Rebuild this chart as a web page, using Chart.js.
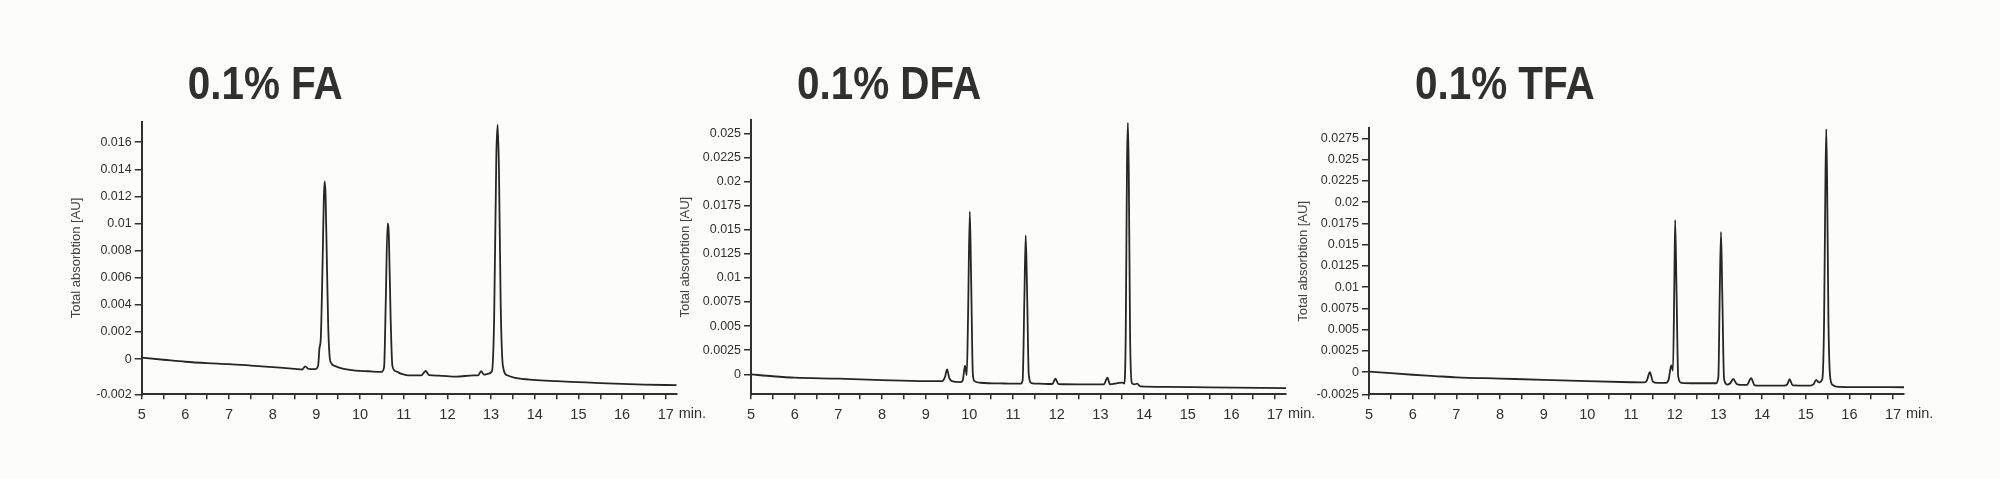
<!DOCTYPE html>
<html>
<head>
<meta charset="utf-8">
<title>Chromatograms</title>
<script src="https://cdn.jsdelivr.net/npm/chart.js@4.4.1/dist/chart.umd.min.js"></script>
<style>
  html, body { margin: 0; padding: 0; background: #fcfcfa; }
  body { width: 2000px; height: 479px; position: relative; overflow: hidden; }
  canvas { position: absolute; top: 0; }
</style>
</head>
<body>
<canvas id="faChart" width="717" height="479" style="left:0px"></canvas>
<canvas id="dfaChart" width="666" height="479" style="left:660px"></canvas>
<canvas id="tfaChart" width="664" height="479" style="left:1280px"></canvas>

<script>
// retention time axis (min.)
const xTicks = [5, 6, 7, 8, 9, 10, 11, 12, 13, 14, 15, 16, 17];

// 0.1% FA
const faTime = [5.0, 5.5, 6.0, 6.5, 7.0, 7.5, 8.0, 8.5, 8.68, 8.74, 8.82, 8.97, 9.04, 9.07, 9.1, 9.14, 9.17, 9.19, 9.21, 9.24, 9.27, 9.3, 9.34, 9.42, 9.6, 9.9, 10.2, 10.49, 10.55, 10.59, 10.63, 10.66, 10.7, 10.74, 10.82, 10.95, 11.1, 11.4, 11.5, 11.58, 11.8, 12.2, 12.6, 12.7, 12.77, 12.84, 12.92, 13.02, 13.07, 13.12, 13.15, 13.18, 13.22, 13.27, 13.37, 13.56, 13.97, 14.5, 15.0, 15.5, 16.0, 16.5, 17.25];
const faSignal = [0.0001, -0.00005, -0.0002, -0.0003, -0.00037, -0.00048, -0.0006, -0.00072, -0.00077, -0.00054, -0.00073, -0.00075, -0.0005, 0.0008, 0.0015, 0.0068, 0.0118, 0.0131, 0.0121, 0.0072, 0.0025, 0.0003, -0.0003, -0.0005, -0.0007, -0.00085, -0.0009, -0.00095, -0.0006, 0.0045, 0.01, 0.009, 0.003, -0.0005, -0.0009, -0.0011, -0.0012, -0.0012, -0.00088, -0.00118, -0.00122, -0.0013, -0.0012, -0.0012, -0.0009, -0.00115, -0.0011, -0.0009, 0.003, 0.015, 0.0173, 0.014, 0.004, -0.0005, -0.0012, -0.00139, -0.00154, -0.00163, -0.0017, -0.00177, -0.00183, -0.00188, -0.00193];
const faYTicks = [-0.002, 0, 0.002, 0.004, 0.006, 0.008, 0.01, 0.012, 0.014, 0.016];

// 0.1% DFA
const dfaTime = [5.0, 5.5, 6.0, 7.0, 8.0, 9.0, 9.38, 9.44, 9.49, 9.54, 9.6, 9.8, 9.85, 9.9, 9.94, 9.97, 10.01, 10.04, 10.08, 10.12, 10.25, 10.8, 11.18, 11.22, 11.26, 11.29, 11.32, 11.36, 11.42, 11.6, 11.9, 11.97, 12.04, 12.5, 13.08, 13.16, 13.22, 13.4, 13.5, 13.55, 13.58, 13.61, 13.63, 13.65, 13.68, 13.72, 13.78, 13.84, 13.92, 14.5, 15.5, 17.25];
const dfaSignal = [0.0, -0.0002, -0.00035, -0.00045, -0.0006, -0.0007, -0.0007, -0.0003, 0.0005, -0.0004, -0.0007, -0.0008, -0.0006, 0.0009, -0.0001, 0.006, 0.0169, 0.01, 0.0, -0.0007, -0.00087, -0.00095, -0.00097, -0.0006, 0.008, 0.0144, 0.009, 0.0, -0.0009, -0.00097, -0.001, -0.00045, -0.001, -0.00104, -0.00104, -0.00035, -0.00104, -0.0009, -0.00085, -0.00095, 0.004, 0.022, 0.0261, 0.021, 0.004, -0.0009, -0.00104, -0.00097, -0.00125, -0.0013, -0.00135, -0.00142];
const dfaYTicks = [0, 0.0025, 0.005, 0.0075, 0.01, 0.0125, 0.015, 0.0175, 0.02, 0.0225, 0.025];

// 0.1% TFA
const tfaTime = [5.0, 5.5, 6.0, 6.5, 7.0, 8.0, 9.0, 10.0, 11.0, 11.3, 11.36, 11.43, 11.5, 11.6, 11.8, 11.86, 11.92, 11.96, 11.99, 12.01, 12.04, 12.08, 12.15, 12.5, 12.95, 13.0, 13.03, 13.06, 13.09, 13.13, 13.2, 13.27, 13.34, 13.42, 13.5, 13.65, 13.75, 13.83, 14.0, 14.5, 14.58, 14.63, 14.7, 15.1, 15.18, 15.24, 15.3, 15.38, 15.42, 15.45, 15.47, 15.49, 15.52, 15.56, 15.62, 15.7, 16.0, 17.25];
const tfaSignal = [0.00008, -0.00012, -0.0003, -0.00045, -0.0006, -0.00075, -0.0009, -0.00106, -0.00118, -0.0012, -0.001, 0.0, -0.0011, -0.00125, -0.00125, -0.0009, 0.0008, 0.0002, 0.01, 0.0179, 0.01, -0.0005, -0.00125, -0.0013, -0.0013, -0.0005, 0.009, 0.0165, 0.009, -0.0008, -0.00145, -0.0013, -0.0008, -0.0014, -0.0015, -0.0015, -0.0007, -0.00155, -0.00158, -0.00158, -0.0014, -0.00083, -0.00155, -0.00158, -0.0014, -0.0009, -0.0012, -0.0008, 0.006, 0.022, 0.0286, 0.022, 0.006, -0.0006, -0.0015, -0.0017, -0.00175, -0.00177];
const tfaYTicks = [-0.0025, 0, 0.0025, 0.005, 0.0075, 0.01, 0.0125, 0.015, 0.0175, 0.02, 0.0225, 0.025, 0.0275];

const Y_AXIS_WIDTH = 73.5;
const X_AXIS_HEIGHT = 35;
const INK = "#303030";

function formatTick(v) {
  return String(Number(v.toFixed(4)));
}

const panelLabelsPlugin = {
  id: "panelLabels",
  afterDraw(chart, args, opts) {
    const { ctx, chartArea } = chart;
    ctx.save();
    ctx.fillStyle = INK;
    ctx.textAlign = "left";
    ctx.textBaseline = "alphabetic";
    // the title face in the original is a condensed bold
    ctx.translate(chartArea.left + 46, 99);
    ctx.scale(0.86, 1);
    ctx.font = "bold 47px 'Liberation Sans', Arial, sans-serif";
    ctx.fillText(opts.title, 0, 0);
    ctx.restore();

    ctx.save();
    ctx.fillStyle = INK;
    ctx.textAlign = "left";
    ctx.textBaseline = "top";
    ctx.font = "14.5px 'Liberation Sans', Arial, sans-serif";
    ctx.fillText("min.", chartArea.right + 2, chartArea.bottom + 12);
    ctx.restore();
  }
};

function renderPanel(canvasId, title, times, signals, yTicks, yMin, yMax, pad) {
  const ctx = document.getElementById(canvasId);
  if (!ctx) return;

  const points = times.map((t, i) => ({ x: t, y: signals[i] }));

  return new Chart(ctx, {
    type: "line",
    data: {
      datasets: [{
        data: points,
        borderColor: "#262626",
        borderWidth: 1.8,
        pointRadius: 0,
        cubicInterpolationMode: "monotone",
        fill: false
      }]
    },
    options: {
      responsive: false,
      animation: false,
      devicePixelRatio: 1,
      layout: { padding: pad },
      plugins: {
        legend: { display: false },
        tooltip: { enabled: false },
        panelLabels: { title: title }
      },
      scales: {
        x: {
          type: "linear",
          min: 5,
          max: 17.25,
          afterBuildTicks: scale => {
            const ticks = [];
            xTicks.forEach((v, i) => {
              ticks.push({ value: v });
              if (i < xTicks.length - 1) ticks.push({ value: v + 0.5 });
            });
            scale.ticks = ticks;
          },
          afterFit: scale => { scale.height = X_AXIS_HEIGHT; },
          border: { display: true, color: INK, width: 2 },
          grid: { drawOnChartArea: false, drawTicks: true, tickLength: 5, color: INK, lineWidth: 1.5 },
          ticks: {
            autoSkip: false,
            maxRotation: 0,
            padding: 7,
            color: INK,
            font: { family: "'Liberation Sans', Arial, sans-serif", size: 14.5 },
            callback: value => Number.isInteger(value) ? String(value) : ""
          }
        },
        y: {
          type: "linear",
          min: yMin,
          max: yMax,
          afterBuildTicks: scale => {
            // lowest negative label sits on the axis line in the original
            scale.ticks = yTicks.map(v => ({ value: v < 0 ? yMin : v }));
          },
          afterFit: scale => { scale.width = Y_AXIS_WIDTH; },
          border: { display: true, color: INK, width: 2 },
          grid: { drawOnChartArea: false, drawTicks: true, tickLength: 7, color: INK, lineWidth: 1.5 },
          ticks: {
            autoSkip: false,
            padding: 3,
            color: INK,
            font: { family: "'Liberation Sans', Arial, sans-serif", size: 12.5 },
            callback: (value, index) => formatTick(yTicks[index])
          },
          title: {
            display: true,
            text: "Total absorbtion [AU]",
            color: "#444",
            padding: 0,
            font: { family: "'Liberation Sans', Arial, sans-serif", size: 13 }
          }
        }
      }
    },
    plugins: [panelLabelsPlugin]
  });
}

renderPanel("faChart", "0.1% FA", faTime, faSignal, faYTicks, -0.0026, 0.01751,
  { left: 68.2, right: 40.3, top: 121.7, bottom: 49.7 });
renderPanel("dfaChart", "0.1% DFA", dfaTime, dfaSignal, dfaYTicks, -0.00207, 0.02638,
  { left: 17.5, right: 40, top: 120, bottom: 49.7 });
renderPanel("tfaChart", "0.1% TFA", tfaTime, tfaSignal, tfaYTicks, -0.0026, 0.0287,
  { left: 15.5, right: 40, top: 128.3, bottom: 49.7 });
</script>
</body>
</html>
